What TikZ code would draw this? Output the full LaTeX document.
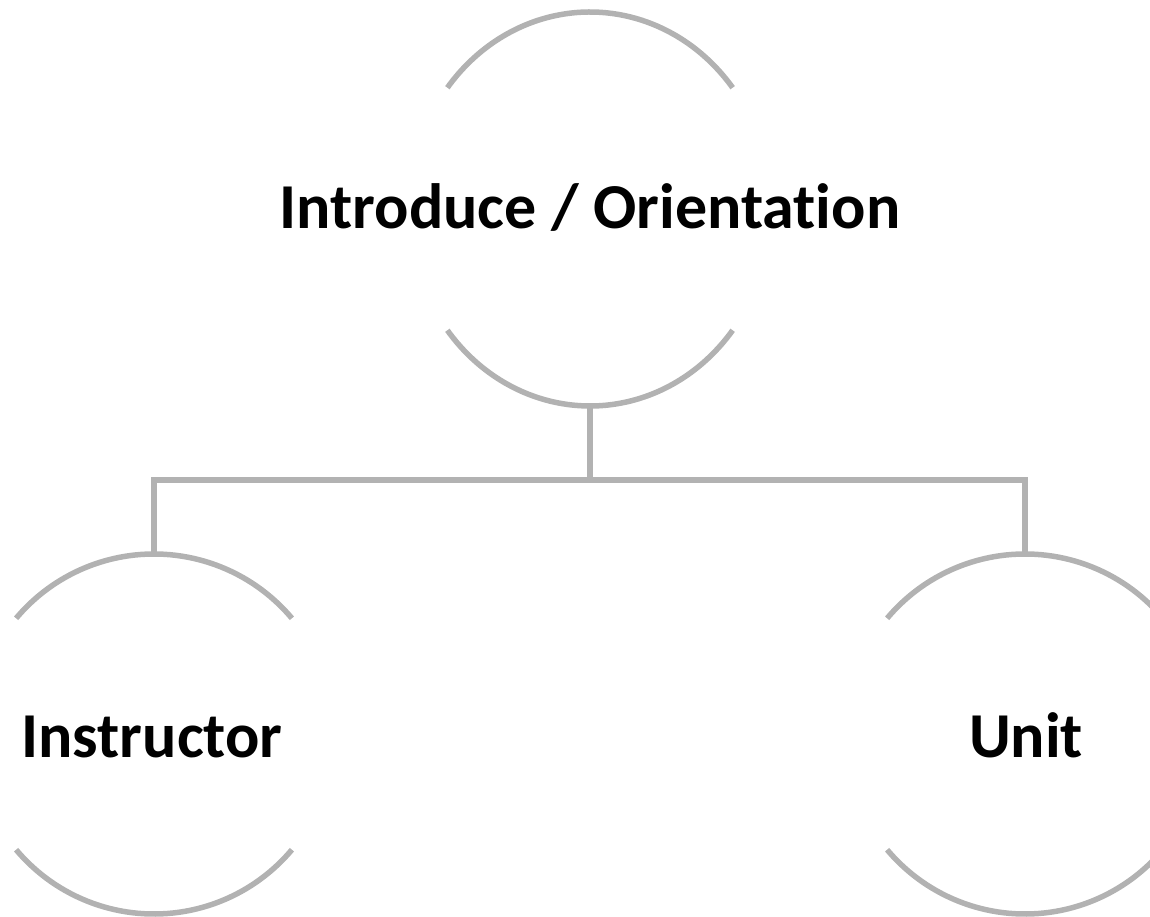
\documentclass[tikz,border=0pt]{standalone}
\usepackage{fontspec}
\setsansfont[Ligatures={NoCommon,NoContextual}]{Carlito}
\usepackage{xcolor}
\usepackage{tikz}
\usetikzlibrary{shapes.geometric}
\definecolor{ring}{HTML}{B2B2B2}
\definecolor{ink}{HTML}{000000}
\tikzset{
  ringline/.style={draw=ring, line width=5.5pt},
  conn/.style={draw=ring, line width=5.5pt},
  hub/.style={ellipse, draw=none, inner sep=0pt, minimum width=362pt, minimum height=394pt},
  leaf/.style={circle, draw=none, inner sep=0pt, minimum size=360pt},
  lab/.style={text=ink, font=\sffamily\bfseries\fontsize{64}{76}\selectfont, anchor=base, inner sep=0pt},
}
\begin{document}
\begin{tikzpicture}[x=1pt,y=1pt]
  \useasboundingbox (0,0) rectangle (1150,916);
  \clip (0,0) rectangle (1150,916);
  \node[hub] (intro) at (590,707) {};
  \node[leaf] (instr) at (154,182) {};
  \node[leaf] (unit) at (1025,182) {};
  % open rings
  \draw[ringline] (intro.center) ++(38:181 and 197) arc[start angle=38, end angle=142, x radius=181, y radius=197];
  \draw[ringline] (intro.center) ++(218:181 and 197) arc[start angle=218, end angle=322, x radius=181, y radius=197];
  \draw[ringline] (instr.center) ++(40:180) arc[start angle=40, end angle=140, radius=180];
  \draw[ringline] (instr.center) ++(220:180) arc[start angle=220, end angle=320, radius=180];
  \draw[ringline] (unit.center) ++(40:180) arc[start angle=40, end angle=140, radius=180];
  \draw[ringline] (unit.center) ++(220:180) arc[start angle=220, end angle=320, radius=180];
  % labels
  \node[lab] (intro-t) at (590,687) {Introduce / Orientation};
  \node[lab] (instr-t) at (152,159) {Instructor};
  \node[lab] (unit-t) at (1026,159) {Unit};
  % tree lines
  \coordinate (bus) at (590,436);
  \draw[conn] (intro.south) -- (bus);
  \draw[conn] (instr.north) |- (bus) -| (unit.north);
\end{tikzpicture}
\end{document}
